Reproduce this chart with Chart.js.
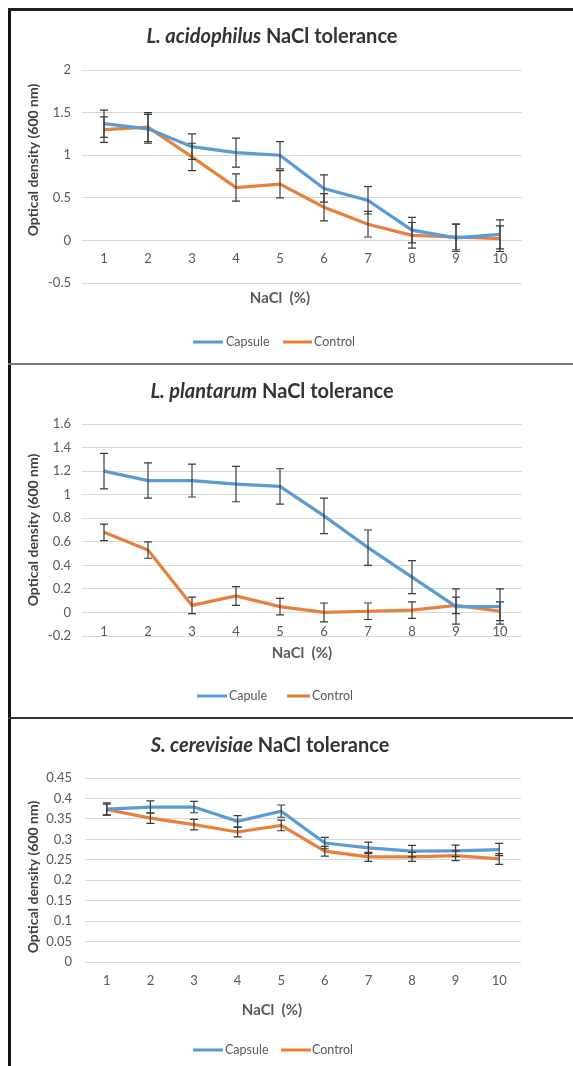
<!DOCTYPE html>
<html><head><meta charset="utf-8">
<script src="https://cdn.jsdelivr.net/npm/chart.js@4.4.1/dist/chart.umd.min.js"></script>
<style>
html,body{margin:0;padding:0;background:#fff;}
body{width:573px;height:1066px;position:relative;overflow:hidden;}
canvas{position:absolute;left:0;}
.b{position:absolute;}
</style></head><body>
<canvas id="c1" width="573" height="363" style="top:0px"></canvas>
<canvas id="c2" width="573" height="355" style="top:363px"></canvas>
<canvas id="c3" width="573" height="348" style="top:718px"></canvas>
<div class="b" style="left:8px;top:8px;width:3px;height:1058px;background:#111"></div>
<div class="b" style="left:8px;top:8px;width:565px;height:3px;background:#222"></div>
<div class="b" style="left:8px;top:363px;width:565px;height:2px;background:#777"></div>
<div class="b" style="left:8px;top:717px;width:565px;height:2px;background:#333"></div>
<script>
// ---- data ----
const categories = ['1','2','3','4','5','6','7','8','9','10'];

const laCapsule    = [1.37, 1.31, 1.10, 1.03, 1.00, 0.61, 0.47, 0.12, 0.03, 0.07];
const laCapsuleErr = [0.16, 0.17, 0.15, 0.17, 0.16, 0.16, 0.16, 0.15, 0.16, 0.17];
const laControl    = [1.30, 1.33, 0.98, 0.62, 0.66, 0.39, 0.19, 0.06, 0.04, 0.02];
const laControlErr = [0.15, 0.17, 0.16, 0.16, 0.16, 0.16, 0.15, 0.15, 0.15, 0.15];
const laTicks = [-0.5, 0, 0.5, 1, 1.5, 2];
const laTickLabels = ['-0.5', '0', '0.5', '1', '1.5', '2'];

const lpCapsule    = [1.20, 1.12, 1.12, 1.09, 1.07, 0.82, 0.55, 0.30, 0.05, 0.05];
const lpCapsuleErr = [0.15, 0.15, 0.14, 0.15, 0.15, 0.15, 0.15, 0.14, 0.15, 0.15];
const lpControl    = [0.68, 0.53, 0.06, 0.14, 0.05, 0.00, 0.01, 0.02, 0.06, 0.01];
const lpControlErr = [0.07, 0.07, 0.07, 0.08, 0.07, 0.08, 0.07, 0.07, 0.07, 0.08];
const lpTicks = [-0.2, 0, 0.2, 0.4, 0.6, 0.8, 1, 1.2, 1.4, 1.6];
const lpTickLabels = ['-0.2', '0', '0.2', '0.4', '0.6', '0.8', '1', '1.2', '1.4', '1.6'];

const scCapsule    = [0.374, 0.379, 0.379, 0.344, 0.369, 0.291, 0.279, 0.271, 0.272, 0.275];
const scCapsuleErr = [0.015, 0.015, 0.014, 0.014, 0.015, 0.014, 0.014, 0.014, 0.014, 0.015];
const scControl    = [0.373, 0.352, 0.336, 0.318, 0.334, 0.271, 0.257, 0.257, 0.260, 0.252];
const scControlErr = [0.013, 0.013, 0.013, 0.012, 0.013, 0.012, 0.011, 0.011, 0.012, 0.013];
const scTicks = [0, 0.05, 0.1, 0.15, 0.2, 0.25, 0.3, 0.35, 0.4, 0.45];
const scTickLabels = ['0', '0.05', '0.1', '0.15', '0.2', '0.25', '0.3', '0.35', '0.4', '0.45'];

// ---- styles ----
const BLUE = '#5b9bd5';
const ORANGE = '#e8803d';
const FONT = 'Lato, "Open Sans", sans-serif';

function panelPlugin(p) {
  return {
    id: 'panelText',
    afterDatasetsDraw(chart) {
      const ctx = chart.ctx, xs = chart.scales.x, ys = chart.scales.y;
      ctx.save();
      ctx.strokeStyle = '#3a3a3a';
      ctx.lineWidth = 1.2;
      p.errs.forEach((errs, d) => {
        const vals = p.series[d];
        vals.forEach((v, j) => {
          const x = xs.getPixelForValue(j);
          const yt = ys.getPixelForValue(v + errs[j]);
          const yb = ys.getPixelForValue(v - errs[j]);
          ctx.beginPath();
          ctx.moveTo(x, yt); ctx.lineTo(x, yb);
          ctx.moveTo(x - 4, yt); ctx.lineTo(x + 4, yt);
          ctx.moveTo(x - 4, yb); ctx.lineTo(x + 4, yb);
          ctx.stroke();
        });
      });
      ctx.restore();
    },
    afterDraw(chart) {
      const ctx = chart.ctx, xs = chart.scales.x, ys = chart.scales.y;
      ctx.save();
      // title
      ctx.fillStyle = '#333';
      ctx.textBaseline = 'middle';
      ctx.font = 'italic bold 20px ' + FONT;
      const w1 = ctx.measureText(p.title[0]).width;
      ctx.font = 'bold 20px ' + FONT;
      const w2 = ctx.measureText(p.title[1]).width;
      let tx = p.titlePos[0] - (w1 + w2) / 2;
      ctx.textAlign = 'left';
      ctx.font = 'italic bold 20px ' + FONT;
      ctx.fillText(p.title[0], tx, p.titlePos[1]);
      ctx.font = 'bold 20px ' + FONT;
      ctx.fillText(p.title[1], tx + w1, p.titlePos[1]);
      // category labels at zero line
      ctx.fillStyle = '#595959';
      ctx.font = '13px ' + FONT;
      ctx.textAlign = 'center';
      const y0 = ys.getPixelForValue(0) + p.catOffset;
      categories.forEach((c, j) => ctx.fillText(c, xs.getPixelForValue(j), y0));
      // x title
      ctx.font = 'bold 15px ' + FONT;
      ctx.fillStyle = '#595959';
      ctx.fillText('NaCl  (%)', p.xTitlePos[0], p.xTitlePos[1]);
      // y title
      ctx.save();
      ctx.translate(p.yTitlePos[0], p.yTitlePos[1]);
      ctx.rotate(-Math.PI / 2);
      ctx.font = 'bold 14px ' + FONT;
      ctx.fillStyle = '#404040';
      ctx.fillText('Optical density (600 nm)', 0, 0);
      ctx.restore();
      // legend
      ctx.font = '12.5px ' + FONT;
      ctx.textAlign = 'left';
      p.legend.forEach((it, d) => {
        ctx.strokeStyle = d === 0 ? BLUE : ORANGE;
        ctx.lineWidth = 3;
        ctx.beginPath();
        ctx.moveTo(it[0], p.legendY); ctx.lineTo(it[1], p.legendY);
        ctx.stroke();
        ctx.fillStyle = '#595959';
        ctx.fillText(p.names[d], it[2], p.legendY);
      });
      ctx.restore();
    }
  };
}

function makeChart(id, p) {
  const canvas = document.getElementById(id);
  const H = canvas.height;
  return new Chart(canvas, {
    type: 'line',
    data: {
      labels: categories,
      datasets: [
        {label: p.names[0], data: p.series[0], borderColor: BLUE, backgroundColor: BLUE, borderWidth: 3.2, pointRadius: 0, tension: 0},
        {label: p.names[1], data: p.series[1], borderColor: ORANGE, backgroundColor: ORANGE, borderWidth: 3.2, pointRadius: 0, tension: 0}
      ]
    },
    options: {
      responsive: false, animation: false, devicePixelRatio: 1,
      layout: {padding: {left: 0, top: p.area.top, right: canvas.width - p.area.right, bottom: H - p.area.bottom}},
      plugins: {legend: {display: false}, title: {display: false}, tooltip: {enabled: false}},
      scales: {
        x: {display: false, offset: true},
        y: {
          min: p.ticks[0], max: p.ticks[p.ticks.length - 1],
          afterFit: s => { s.width = p.area.left; },
          afterBuildTicks: s => { s.ticks = p.ticks.map(v => ({value: v})); },
          grid: {color: '#d9d9d9', lineWidth: 1, drawTicks: false},
          border: {display: false},
          ticks: {
            padding: p.area.left - p.tickRight,
            color: '#595959',
            font: {family: FONT, size: 13},
            callback: (v, i) => p.tickLabels[i]
          }
        }
      }
    },
    plugins: [panelPlugin(p)]
  });
}

makeChart('c1', {
  title: ['L. acidophilus', ' NaCl tolerance'], titlePos: [272, 37],
  names: ['Capsule', 'Control'],
  series: [laCapsule, laControl], errs: [laCapsuleErr, laControlErr],
  ticks: laTicks, tickLabels: laTickLabels,
  area: {left: 82, right: 522, top: 70, bottom: 283}, tickRight: 71,
  catOffset: 18, xTitlePos: [280, 298], yTitlePos: [33, 160],
  legendY: 342, legend: [[193, 223, 226], [283, 312, 314]]
});
makeChart('c2', {
  title: ['L. plantarum', ' NaCl tolerance'], titlePos: [272, 29],
  names: ['Capule', 'Control'],
  series: [lpCapsule, lpControl], errs: [lpCapsuleErr, lpControlErr],
  ticks: lpTicks, tickLabels: lpTickLabels,
  area: {left: 82, right: 522, top: 61, bottom: 273}, tickRight: 71,
  catOffset: 19, xTitlePos: [302, 290], yTitlePos: [33, 167],
  legendY: 333, legend: [[197, 227, 229], [287, 310, 312]]
});
makeChart('c3', {
  title: ['S. cerevisiae', ' NaCl tolerance'], titlePos: [270, 28],
  names: ['Capsule', 'Control'],
  series: [scCapsule, scControl], errs: [scCapsuleErr, scControlErr],
  ticks: scTicks, tickLabels: scTickLabels,
  area: {left: 85, right: 521, top: 60, bottom: 244}, tickRight: 72,
  catOffset: 19, xTitlePos: [272, 292], yTitlePos: [33, 159],
  legendY: 332, legend: [[193, 223, 225], [281, 311, 312]]
});
</script>
</body></html>
